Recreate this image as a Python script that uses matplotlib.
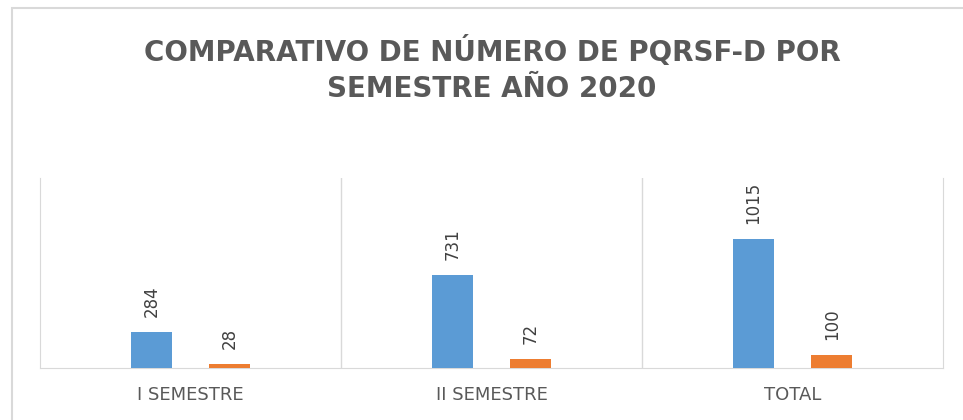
import matplotlib.pyplot as plt
from matplotlib.patches import Rectangle

# Datos
categorias = ['I SEMESTRE', 'II SEMESTRE', 'TOTAL']
serie_1 = [284, 731, 1015]
serie_2 = [28, 72, 100]

azul = '#5B9BD5'
naranja = '#ED7D31'
gris = '#595959'
gris_claro = '#D9D9D9'

fig = plt.figure(figsize=(9.63, 4.2), dpi=100)
ax = fig.add_axes([40 / 963, 1 - 368 / 420, 903 / 963, 190 / 420])

x = list(range(len(categorias)))
ancho = 0.136
desp = 0.13

b1 = ax.bar([i - desp for i in x], serie_1, width=ancho, color=azul, zorder=3)
b2 = ax.bar([i + desp for i in x], serie_2, width=ancho, color=naranja, zorder=3)

# Etiquetas de datos
for barras in (b1, b2):
    ax.bar_label(barras, rotation=90, padding=11, fontsize=12, color='#404040')

ax.set_xlim(-0.5, 2.5)
ax.set_ylim(0, 1500)
ax.set_yticks([])

ax.set_xticks(x)
ax.set_xticklabels(categorias, fontsize=13, color=gris)
ax.tick_params(axis='x', length=0, pad=13)

# Separadores verticales entre categorias
ax.set_xticks([0.5, 1.5], minor=True)
ax.tick_params(axis='x', which='minor', length=0)
ax.grid(True, which='minor', axis='x', color=gris_claro, linewidth=1)

for lado in ['left', 'right', 'bottom']:
    ax.spines[lado].set_color(gris_claro)
ax.spines['top'].set_visible(False)

# Titulo
fig.text(492 / 963, 1 - 51.5 / 420, 'COMPARATIVO DE NÚMERO DE PQRSF-D POR',
         ha='center', va='center', fontsize=20, fontweight='bold', color=gris)
fig.text(492 / 963, 1 - 89 / 420, 'SEMESTRE AÑO 2020',
         ha='center', va='center', fontsize=20, fontweight='bold', color=gris)

# Borde del grafico
fig.patches.append(Rectangle((12 / 963, -0.1), 1.1, 1 - 8 / 420 + 0.1,
                             transform=fig.transFigure, fill=False,
                             edgecolor=gris_claro, linewidth=1.5))

plt.savefig('out.png', dpi=100)
